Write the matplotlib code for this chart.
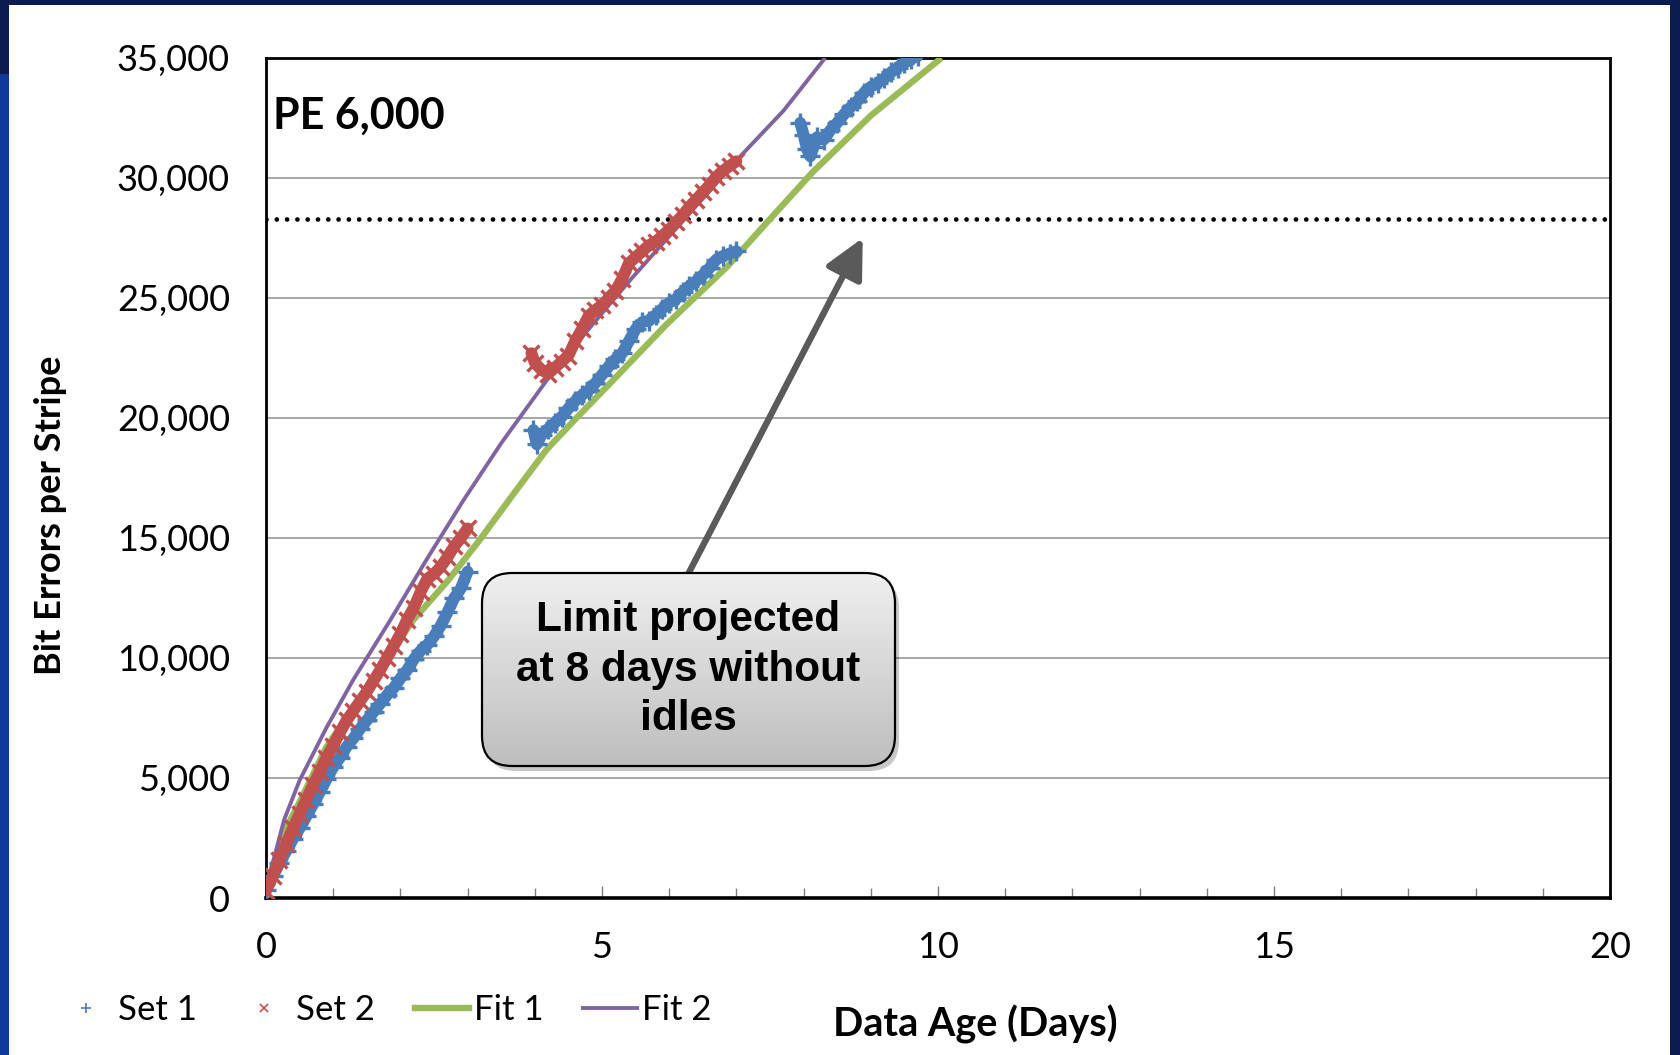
import matplotlib
matplotlib.use("Agg")
import matplotlib.pyplot as plt
import numpy as np
from matplotlib.patches import FancyBboxPatch, Rectangle
from matplotlib.lines import Line2D
from matplotlib.ticker import FuncFormatter, MultipleLocator
from matplotlib.colors import LinearSegmentedColormap

# -----------------------------------------------
# Data (days, bit errors per stripe)
# -----------------------------------------------
set1_a_x = [0.0, 0.1, 0.2, 0.3, 0.4, 0.5, 0.6, 0.7, 0.8, 0.9, 1.0, 1.1, 1.2, 1.3, 1.4, 1.5,
            1.6, 1.7, 1.8, 1.9, 2.0, 2.1, 2.2, 2.3, 2.4, 2.5, 2.6, 2.7, 2.8, 2.9, 3.0]
set1_a_y = [350, 900, 1450, 1950, 2450, 2900, 3400, 3900, 4400, 4950, 5450, 5850, 6300, 6650,
            7050, 7400, 7750, 8100, 8450, 8750, 9150, 9500, 9950, 10300, 10550, 10900, 11350,
            11900, 12500, 12900, 13600]
set1_b_x = [3.98, 4.03, 4.1, 4.2, 4.3, 4.4, 4.5, 4.6, 4.7, 4.8, 4.9, 5.0, 5.1, 5.2, 5.3, 5.4,
            5.5, 5.6, 5.7, 5.8, 5.9, 6.0, 6.1, 6.2, 6.3, 6.4, 6.5, 6.6, 6.7, 6.8, 6.9, 7.0]
set1_b_y = [19500, 18900, 19300, 19550, 19800, 20050, 20400, 20700, 20950, 21150, 21450, 21800,
            22150, 22450, 22700, 23200, 23700, 24000, 24050, 24300, 24550, 24800, 24950, 25250,
            25500, 25700, 25950, 26250, 26600, 26750, 26850, 26950]
set1_c_x = [7.95, 8.0, 8.05, 8.1, 8.15, 8.2, 8.3, 8.4, 8.5, 8.6, 8.7, 8.8, 8.9, 9.0, 9.1,
            9.2, 9.3, 9.4, 9.5, 9.6, 9.7]
set1_c_y = [32300, 31800, 31200, 30900, 31300, 31700, 31600, 32000, 32300, 32650, 32950, 33200,
            33550, 33800, 33950, 34150, 34400, 34600, 34800, 34950, 35100]

set2_a_x = [0.0, 0.1, 0.2, 0.3, 0.4, 0.5, 0.6, 0.7, 0.8, 0.9, 1.0, 1.1, 1.2, 1.3, 1.4, 1.5,
            1.6, 1.7, 1.8, 1.9, 2.0, 2.1, 2.2, 2.3, 2.4, 2.5, 2.6, 2.7, 2.8, 2.9, 3.0]
set2_a_y = [300, 900, 1600, 2250, 2900, 3500, 4100, 4700, 5250, 5850, 6350, 6900, 7400, 7800,
            8200, 8600, 9050, 9500, 10000, 10500, 11000, 11600, 12100, 12750, 13300, 13500,
            13800, 14200, 14650, 15000, 15400]
set2_b_x = [3.95, 4.0, 4.1, 4.2, 4.3, 4.4, 4.5, 4.6, 4.7, 4.8, 4.9, 5.0, 5.1, 5.2, 5.3, 5.4,
            5.5, 5.6, 5.7, 5.8, 5.9, 6.0, 6.1, 6.2, 6.3, 6.4, 6.5, 6.6, 6.7, 6.8, 6.9, 7.0]
set2_b_y = [22700, 22300, 22000, 21850, 22100, 22350, 22600, 23200, 23700, 24250, 24500, 24700,
            25000, 25300, 25800, 26450, 26700, 26950, 27200, 27350, 27600, 27850, 28150, 28450,
            28800, 29100, 29400, 29700, 30050, 30300, 30500, 30700]

fit1_x = [0, 0.1, 0.26, 0.5, 0.9, 1.5, 2.19, 2.7, 3.18, 3.7, 4.18, 4.62, 5.07, 5.96, 6.86,
          7.5, 8.14, 9.0, 10.05]
fit1_y = [0, 1300, 2700, 4000, 6300, 8700, 11580, 13200, 14920, 16900, 18700, 20000, 21300,
          23900, 26300, 28290, 30260, 32600, 35000]
fit2_x = [0, 0.06, 0.27, 0.5, 0.9, 1.3, 1.85, 2.4, 2.94, 3.5, 4.18, 4.8, 5.42, 6.2, 7.03, 7.7, 8.32]
fit2_y = [0, 1040, 3260, 4900, 7100, 9100, 11580, 14150, 16580, 18950, 21580, 23700, 25750,
          28200, 30820, 32800, 35000]

limit_y = 28300
arrow_from = (6.29, 13540)
arrow_to = (8.88, 27500)

BLUE = "#4a7ebb"
RED = "#c0504d"
GREEN = "#9bbb59"
PURPLE = "#8064a2"

FONT = "Lato"

# -----------------------------------------------
# Figure / slide background
# -----------------------------------------------
W, H, DPI = 1681, 1055, 100
fig = plt.figure(figsize=(W / DPI, H / DPI), dpi=DPI, facecolor="#0b1d50")
fig.patches.append(Rectangle((9 / W, 0), (1670 - 9) / W, 1 - 5 / H, transform=fig.transFigure,
                             facecolor="white", edgecolor="none", zorder=-2))
fig.patches.append(Rectangle((0, 0), 9 / W, 0.93, transform=fig.transFigure,
                             facecolor="#0f3a9c", edgecolor="none", zorder=-2))

ax = fig.add_axes([266 / W, 1 - 898 / H, (1610 - 266) / W, (898 - 58) / H])
ax.set_zorder(1)
ax.set_facecolor("white")

# ---- fits (under the scatter) ----
ax.plot(fit1_x, fit1_y, color=GREEN, lw=4.6, zorder=3, solid_capstyle="butt",
        solid_joinstyle="round")
ax.plot(fit2_x, fit2_y, color=PURPLE, lw=2.8, zorder=3, solid_capstyle="butt",
        solid_joinstyle="round")

# ---- measured sets (dense markers -> drawn as a fuzzy band) ----
for xs, ys in [(set1_a_x, set1_a_y), (set1_b_x, set1_b_y), (set1_c_x, set1_c_y)]:
    ax.plot(xs, ys, color=BLUE, lw=8.5, zorder=4, solid_capstyle="round")
    ax.plot(xs, ys, ls="", marker="+", ms=14, mew=2.4, color=BLUE, zorder=4)
for xs, ys in [(set2_a_x, set2_a_y), (set2_b_x, set2_b_y)]:
    ax.plot(xs, ys, color=RED, lw=8.5, zorder=5, solid_capstyle="round")
    ax.plot(xs, ys, ls="", marker="x", ms=11, mew=2.4, color=RED, zorder=5)

# ---- limit line ----
ax.axhline(limit_y, color="black", lw=3.4, ls=(0, (0.01, 2.17)), dash_capstyle="round", zorder=2)

# ---- axes ----
ax.set_xlim(0, 20)
ax.set_ylim(0, 35000)
ax.xaxis.set_major_locator(MultipleLocator(5))
ax.xaxis.set_minor_locator(MultipleLocator(1))
ax.yaxis.set_major_locator(MultipleLocator(5000))
ax.yaxis.set_major_formatter(FuncFormatter(lambda v, p: f"{v:,.0f}"))
ax.grid(axis="y", color="#a6a6a6", lw=1.4, zorder=1)
ax.set_axisbelow(True)
for s in ax.spines.values():
    s.set_color("black")
    s.set_linewidth(2)
ax.spines["bottom"].set_linewidth(2.6)
ax.tick_params(axis="x", which="major", direction="in", length=9, width=1, color="#808080",
               pad=24, labelsize=26)
ax.tick_params(axis="x", which="minor", direction="in", length=7, width=1, color="#808080")
ax.tick_params(axis="y", length=0, pad=26, labelsize=26)
for lbl in ax.get_xticklabels() + ax.get_yticklabels():
    lbl.set_fontfamily(FONT)

# ---- texts ----
fig.text(273 / W, 1 - 116 / H, "PE 6,000", fontsize=31, fontweight="bold", family=FONT,
         ha="left", va="center", zorder=3)
fig.text(51 / W, 1 - 515 / H, "Bit Errors per Stripe", fontsize=26, fontweight="bold",
         family=FONT, rotation=90, ha="center", va="center")
fig.text(975 / W, 1 - 1024 / H, "Data Age (Days)", fontsize=28.5, fontweight="bold",
         family=FONT, ha="center", va="center")

# ---- arrow ----
ax.annotate("", xy=arrow_to, xytext=arrow_from,
            arrowprops=dict(arrowstyle="-|>,head_length=0.8,head_width=0.4", lw=4.6,
                            color="#5a5a5a", mutation_scale=30, shrinkA=0, shrinkB=0),
            zorder=6)

# ---- legend ----
handles = [
    Line2D([], [], ls="", marker="+", ms=7, mew=1.2, color=BLUE),
    Line2D([], [], ls="", marker="x", ms=6, mew=1.2, color=RED),
    Line2D([], [], color=GREEN, lw=4.6),
    Line2D([], [], color=PURPLE, lw=2.8),
]
fig.legend(handles, ["Set 1", "Set 2", "Fit 1", "Fit 2"], ncol=4, loc="center left",
           bbox_to_anchor=(59 / W, 1 - 1010 / H), frameon=False, borderpad=0,
           borderaxespad=0, handlelength=1.55, handletextpad=0.15, columnspacing=1.15,
           prop={"family": FONT, "size": 25})

# ---- callout box ----
bx0, by0, bw, bh, m = 482, 573, 413, 193, 12
bx = fig.add_axes([(bx0 - m) / W, 1 - (by0 + bh + m) / H, (bw + 2 * m) / W, (bh + 2 * m) / H])
bx.set_zorder(2)
bx.axis("off")
shadow = FancyBboxPatch((m + 4, m - 5), bw, bh, boxstyle="round,pad=0,rounding_size=30",
                        fc="black", ec="none", alpha=0.22)
bx.add_patch(shadow)
box = FancyBboxPatch((m, m), bw, bh, boxstyle="round,pad=0,rounding_size=30",
                     fc="none", ec="black", lw=1.6, zorder=3)
bx.add_patch(box)
grad = np.linspace(0, 1, 64).reshape(-1, 1)
cmap = LinearSegmentedColormap.from_list("callout", ["#bebebe", "#efefef"])
im = bx.imshow(grad, extent=(m, m + bw, m, m + bh), cmap=cmap, origin="lower",
               aspect="auto", zorder=2)
im.set_clip_path(box)
bx.set_xlim(0, bw + 2 * m)
bx.set_ylim(0, bh + 2 * m)
bx.text(m + bw / 2, m + bh / 2, "Limit projected\nat 8 days without\nidles", fontsize=30.5,
        fontweight="bold", family="Liberation Sans", ha="center", va="center",
        linespacing=1.3, zorder=4)

fig.savefig("out.png", dpi=DPI, facecolor=fig.get_facecolor())
